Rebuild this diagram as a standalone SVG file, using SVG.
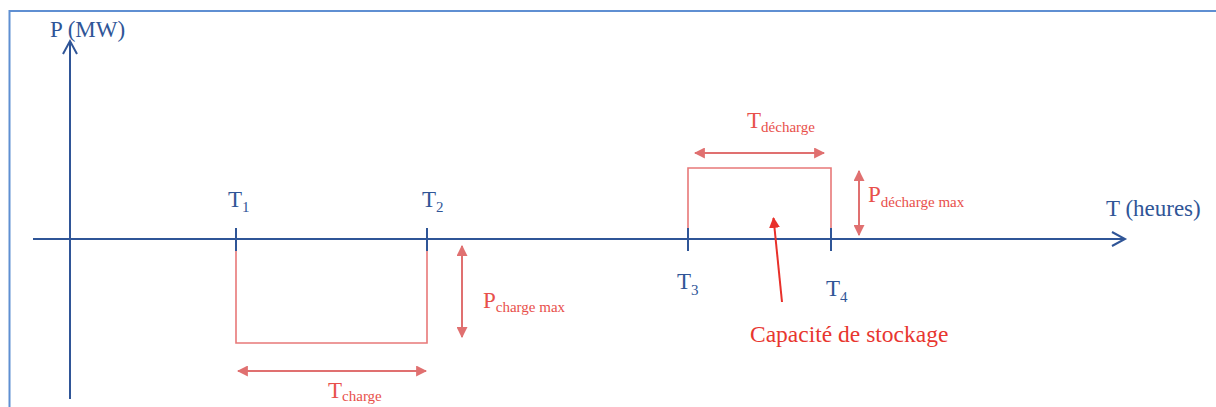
<svg xmlns="http://www.w3.org/2000/svg" width="1216" height="407" viewBox="0 0 1216 407">
<defs>
<style>
.ax{stroke:#2f5597;stroke-width:2;fill:none}
.tk{stroke:#2f5597;stroke-width:2}
.rc{stroke:#e87878;stroke-width:1.6;fill:none}
.dm{stroke:#e07070;stroke-width:2;fill:none}
.bt{font-family:"Liberation Serif","Times New Roman",serif;font-size:23px;fill:#2f5597}
.rt{font-family:"Liberation Serif","Times New Roman",serif;font-size:23px;fill:#e8504b}
.sub{font-size:15px}
</style>
<marker id="dh" viewBox="0 0 10 10" refX="9" refY="5" markerWidth="11" markerHeight="11" orient="auto-start-reverse" markerUnits="userSpaceOnUse">
<path d="M0,0 L10,5 L0,10 Z" fill="#e07070"/>
</marker>
<marker id="ch" viewBox="0 0 10 10" refX="9" refY="5" markerWidth="11" markerHeight="11" orient="auto" markerUnits="userSpaceOnUse">
<path d="M0,0 L10,5 L0,10 Z" fill="#e8302a"/>
</marker>
</defs>
<rect width="1216" height="407" fill="#ffffff"/>
<rect x="9.5" y="11" width="1230" height="420" fill="none" stroke="#5f8fd2" stroke-width="2"/>

<g id="axes">
<line class="ax" x1="70" y1="399" x2="70" y2="41"/>
<polyline class="ax" points="63,54 70,41 77,54"/>
<line class="ax" x1="33" y1="239" x2="1125" y2="239"/>
<polyline class="ax" points="1112,232 1125,239 1112,246"/>
<text class="bt" x="50" y="37">P (MW)</text>
<text class="bt" x="1106" y="216">T (heures)</text>
</g>

<g id="charge">
<polyline class="rc" points="236,251 236,343 427,343 427,251"/>
<line class="tk" x1="236" y1="228" x2="236" y2="251"/>
<line class="tk" x1="427" y1="228" x2="427" y2="251"/>
<text class="bt" x="228" y="207">T<tspan class="sub" dy="5">1</tspan></text>
<text class="bt" x="422" y="207">T<tspan class="sub" dy="5">2</tspan></text>
</g>

<g id="decharge">
<polyline class="rc" points="688,228 688,168 831,168 831,228"/>
<line class="tk" x1="688" y1="228" x2="688" y2="251"/>
<line class="tk" x1="831" y1="228" x2="831" y2="251"/>
<text class="bt" x="677" y="289">T<tspan class="sub" dy="6">3</tspan></text>
<text class="bt" x="826" y="296">T<tspan class="sub" dy="6">4</tspan></text>
</g>

<g id="connectors">
<line class="dm" x1="238" y1="371" x2="426" y2="371" marker-start="url(#dh)" marker-end="url(#dh)"/>
<line class="dm" x1="462" y1="246" x2="462" y2="337" marker-start="url(#dh)" marker-end="url(#dh)"/>
<line class="dm" x1="695" y1="153" x2="824" y2="153" marker-start="url(#dh)" marker-end="url(#dh)"/>
<line class="dm" x1="859" y1="171" x2="859" y2="235" marker-start="url(#dh)" marker-end="url(#dh)"/>
<line x1="782" y1="302" x2="773.5" y2="218" stroke="#e8302a" stroke-width="2" marker-end="url(#ch)"/>
</g>

<g id="labels">
<text class="rt" x="328" y="398">T<tspan class="sub" dy="3">charge</tspan></text>
<text class="rt" x="483" y="308">P<tspan class="sub" dy="4">charge max</tspan></text>
<text class="rt" x="747" y="128">T<tspan class="sub" dy="4">décharge</tspan></text>
<text class="rt" x="868" y="202">P<tspan class="sub" dy="5">décharge max</tspan></text>
<text x="750" y="342" style="font-family:'Liberation Serif','Times New Roman',serif;font-size:23.5px;fill:#e8362f">Capacité de stockage</text>
</g>
</svg>
